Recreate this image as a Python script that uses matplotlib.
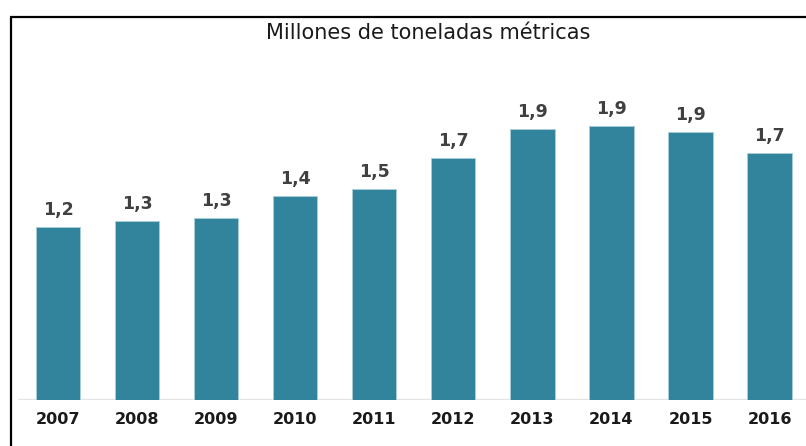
import matplotlib
matplotlib.use("Agg")
import matplotlib.pyplot as plt
from matplotlib.lines import Line2D

years = ["2007", "2008", "2009", "2010", "2011", "2012", "2013", "2014", "2015", "2016"]
values = [1.22, 1.26, 1.28, 1.44, 1.49, 1.71, 1.91, 1.93, 1.89, 1.74]
title = "Millones de toneladas métricas"

plt.rcParams['font.family'] = ['DejaVu Sans']

W, H = 806, 446
fig = plt.figure(figsize=(W / 100, H / 100), dpi=100)
fig.patch.set_facecolor('white')

# axes placed in pixel terms: baseline at y=400, left edge at x=18
ax = fig.add_axes([18 / W, 46 / H, 788 / W, 340 / H])
x = list(range(len(years)))
ax.bar(x, values, width=0.56, color='#31849B', edgecolor='#a7cdd8', linewidth=0.7, zorder=2)
ax.set_xlim(-0.506, 9.46)
ax.set_ylim(0, 340 / 141.8)

for xi, v in zip(x, values):
    ax.annotate(f"{v:.1f}".replace(".", ","), (xi, v), xytext=(0, 12),
                textcoords='offset pixels', ha='center', va='baseline',
                fontsize=12.5, fontweight='bold', color='#404040')

for s in ax.spines.values():
    s.set_visible(False)
ax.axhline(0, color='#e3e3e3', linewidth=1.6, zorder=1)
ax.set_yticks([])
ax.set_xticks(x)
ax.set_xticklabels(years, fontsize=11.5, fontweight='bold', color='#1a1a1a')
ax.tick_params(axis='x', length=0, pad=9)

fig.text(428 / W, 1 - 33 / H, title, ha='center', va='center', fontsize=15, color='#1a1a1a')

# outer frame (top and left edges visible)
fig.add_artist(Line2D([10.5 / W, 10.5 / W], [0, 1 - 16.5 / H], transform=fig.transFigure,
                      color='black', linewidth=1.6, solid_capstyle='butt'))
fig.add_artist(Line2D([9.9 / W, 1], [1 - 16.5 / H, 1 - 16.5 / H], transform=fig.transFigure,
                      color='black', linewidth=1.6, solid_capstyle='butt'))

fig.savefig("out.png", dpi=100)
